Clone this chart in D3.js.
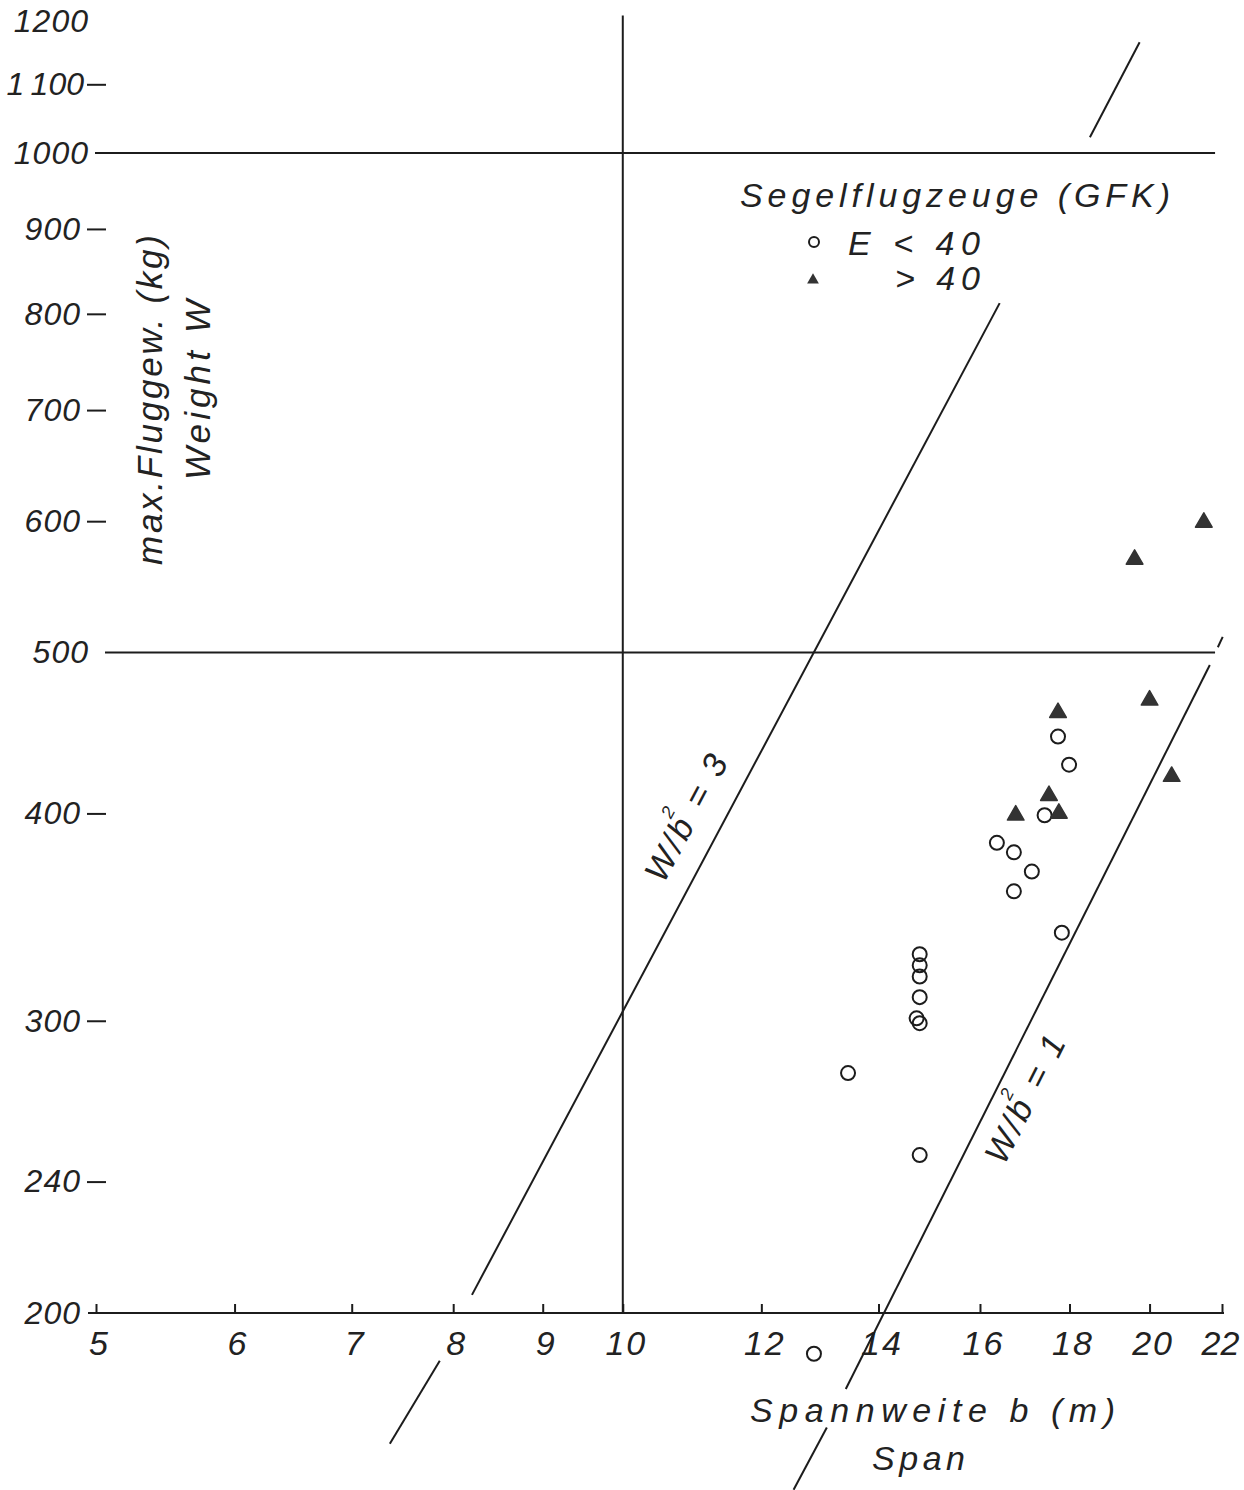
<!DOCTYPE html>
<html>
<head>
<meta charset="utf-8">
<title>Segelflugzeuge (GFK) - Spannweite und Fluggewicht</title>
<script src="https://cdn.jsdelivr.net/npm/d3@7"></script>
<style>
    body { margin: 0; background: #fff; }
    svg text { font-family: "Liberation Sans", Arial, sans-serif; font-style: italic; fill: #222; }
</style>
</head>
<body>
<svg id="chart" width="1244" height="1490"></svg>
<script>
// log-log plot: span b (m) against max. weight W (kg)
var xTicks = [5, 6, 7, 8, 9, 10, 12, 14, 16, 18, 20, 22];
var yTicks = [200, 240, 300, 400, 500, 600, 700, 800, 900, 1000, 1100, 1200];
var yDashTicks = [240, 300, 400, 600, 700, 800, 900, 1100]; // labels with a "–" mark
var yWideTicks = [1200, 1000, 500]; // labels sitting closer to the plot

// grid lines: b = 10, W = 1000, W = 500
var gridSpan = [10];
var gridWeight = [1000, 500];

// E < 40 : open circles (span, weight)
var circleSpan   = [13.45, 12.86, 14.78, 14.78, 14.78, 14.78, 14.78, 14.78, 14.72, 16.36, 16.73, 17.13, 16.73, 17.42, 17.73, 17.99, 17.82];
var circleWeight = [279, 189, 249, 329, 324, 319, 310, 299, 301, 384, 379, 369, 359, 399, 445, 428, 339];

// E > 40 : filled triangles (span, weight)
var triSpan   = [17.73, 20.0, 17.52, 16.77, 17.75, 20.59, 19.61, 21.48];
var triWeight = [460, 468, 410, 399, 400, 421, 569, 599];

// W/b^2 = 3 and W/b^2 = 1, drawn in pieces like the original (broken at lettering)
var line3Segments = [
    [[7.36, 166.8], [7.86, 187.2]],
    [[8.20, 205.1], [16.42, 812]],
    [[18.49, 1022], [19.74, 1166]]
];
var line1Segments = [
    [[12.52, 156.5], [13.08, 170.6]],
    [[13.41, 180.0], [21.65, 491.5]],
    [[21.88, 503.7], [22.02, 511]]
];

var ink = "#1c1c1c";
var svg = d3.select("#chart");

var x = d3.scaleLog().domain([5, 22]).range([96, 1222]);
var y = d3.scaleLog().domain([200, 1000]).range([1313, 153]);

// grid
svg.selectAll("line.vgrid").data(gridSpan).enter().append("line")
    .attr("class", "vgrid")
    .attr("x1", function (d) { return x(d); })
    .attr("x2", function (d) { return x(d); })
    .attr("y1", y(1210)).attr("y2", y(200))
    .attr("stroke", ink).attr("stroke-width", 2);

svg.selectAll("line.hgrid").data(gridWeight).enter().append("line")
    .attr("class", "hgrid")
    .attr("x1", function (d) { return d === 1000 ? 95 : 105; })
    .attr("x2", x(21.8))
    .attr("y1", function (d) { return y(d); })
    .attr("y2", function (d) { return y(d); })
    .attr("stroke", ink).attr("stroke-width", 2);

// x axis, ticks pointing up
var xAxis = svg.append("g")
    .attr("transform", "translate(0," + y(200) + ")")
    .call(d3.axisBottom(x).tickValues(xTicks).tickFormat(d3.format("d"))
        .tickSize(-9).tickSizeOuter(0).tickPadding(18));
xAxis.select(".domain").remove();
xAxis.attr("font-family", null).attr("font-size", null);
xAxis.append("line")
    .attr("x1", x(5) - 8).attr("x2", x(22) + 2)
    .attr("stroke", ink).attr("stroke-width", 2);
xAxis.selectAll(".tick line").attr("stroke", ink).attr("stroke-width", 2);
xAxis.selectAll(".tick text")
    .attr("x", function (d) { return d === 22 ? -2 : 3; })
    .attr("font-size", 34).attr("fill", "#222")
    .style("letter-spacing", function (d) { return d === 22 ? "0px" : "2px"; });

// y axis, no spine, only "–" marks
var yAxis = svg.append("g")
    .attr("transform", "translate(106,0)")
    .call(d3.axisLeft(y).tickValues(yTicks)
        .tickFormat(function (d) { return d === 1100 ? "1\u2009100" : d; })
        .tickSize(18).tickPadding(6));
yAxis.select(".domain").remove();
yAxis.attr("font-family", null).attr("font-size", null);
yAxis.selectAll(".tick line")
    .attr("stroke", ink).attr("stroke-width", 2)
    .attr("x2", -19)
    .attr("display", function (d) { return yDashTicks.indexOf(d) < 0 ? "none" : null; });
yAxis.selectAll(".tick text")
    .attr("x", function (d) {
        if (d === 1100) return -22;
        return yWideTicks.indexOf(d) < 0 ? -25 : -17;
    })
    .attr("font-size", 32).attr("fill", "#222")
    .style("letter-spacing", function (d) { return d === 1100 ? "0px" : "1px"; });

// guide lines
var line = d3.line()
    .x(function (d) { return x(d[0]); })
    .y(function (d) { return y(d[1]); });

svg.selectAll("path.w3").data(line3Segments).enter().append("path")
    .attr("class", "w3").attr("d", line)
    .attr("fill", "none").attr("stroke", ink).attr("stroke-width", 2);
svg.selectAll("path.w1").data(line1Segments).enter().append("path")
    .attr("class", "w1").attr("d", line)
    .attr("fill", "none").attr("stroke", ink).attr("stroke-width", 2);

function ratioLabel(tx, ty, angle, k) {
    var t = svg.append("text")
        .attr("transform", "translate(" + tx + "," + ty + ") rotate(" + angle + ")")
        .attr("text-anchor", "middle")
        .attr("font-size", 34)
        .style("letter-spacing", "3px");
    t.append("tspan").text("W/b");
    t.append("tspan").attr("font-size", 18).attr("dy", -24).attr("dx", -9).text("2");
    t.append("tspan").attr("dy", 24).attr("dx", -2).text(" = " + k);
}
ratioLabel(697, 822, -61.9, 3);
ratioLabel(1036, 1103, -63.2, 1);

// data points
var circles = circleSpan.map(function (b, i) { return [b, circleWeight[i]]; });
var triangles = triSpan.map(function (b, i) { return [b, triWeight[i]]; });

svg.selectAll("circle.pt").data(circles).enter().append("circle")
    .attr("class", "pt")
    .attr("cx", function (d) { return x(d[0]); })
    .attr("cy", function (d) { return y(d[1]); })
    .attr("r", 7)
    .attr("fill", "none").attr("stroke", ink).attr("stroke-width", 2);

var tri = d3.symbol().type(d3.symbolTriangle).size(120);
svg.selectAll("path.pt").data(triangles).enter().append("path")
    .attr("class", "pt")
    .attr("d", tri)
    .attr("transform", function (d) { return "translate(" + x(d[0]) + "," + y(d[1]) + ")"; })
    .attr("fill", "#333").attr("stroke", "#333").attr("stroke-width", 1.5)
    .attr("stroke-linejoin", "round");

// legend
svg.append("text").attr("x", 740).attr("y", 207).attr("font-size", 34)
    .attr("textLength", 430).attr("lengthAdjust", "spacing")
    .text("Segelflugzeuge (GFK)");
svg.append("circle").attr("cx", 814).attr("cy", 242).attr("r", 5)
    .attr("fill", "none").attr("stroke", ink).attr("stroke-width", 2);
svg.append("text").attr("x", 848).attr("y", 255).attr("font-size", 34)
    .attr("textLength", 132).attr("lengthAdjust", "spacing")
    .text("E < 40");
svg.append("path").attr("d", d3.symbol().type(d3.symbolTriangle).size(60))
    .attr("transform", "translate(813,280)").attr("fill", "#333");
svg.append("text").attr("x", 895).attr("y", 290).attr("font-size", 34)
    .attr("textLength", 85).attr("lengthAdjust", "spacing")
    .text("> 40");

// axis titles
svg.append("text").attr("x", 750).attr("y", 1422).attr("font-size", 34)
    .attr("textLength", 365).attr("lengthAdjust", "spacing")
    .text("Spannweite b (m)");
svg.append("text").attr("x", 872).attr("y", 1470).attr("font-size", 34)
    .attr("textLength", 93).attr("lengthAdjust", "spacing")
    .text("Span");
svg.append("text").attr("transform", "translate(162,400) rotate(-90)")
    .attr("text-anchor", "middle").attr("font-size", 35)
    .attr("textLength", 330).attr("lengthAdjust", "spacing")
    .text("max.Fluggew. (kg)");
svg.append("text").attr("transform", "translate(210,390) rotate(-90)")
    .attr("text-anchor", "middle").attr("font-size", 35)
    .attr("textLength", 180).attr("lengthAdjust", "spacing")
    .text("Weight W");
</script>
</body>
</html>
